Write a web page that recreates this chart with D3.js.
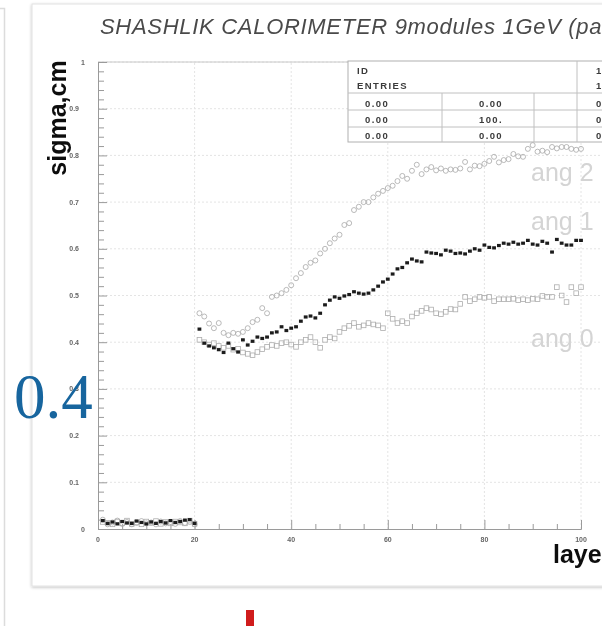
<!DOCTYPE html>
<html>
<head>
<meta charset="utf-8">
<script src="https://cdn.jsdelivr.net/npm/d3@7"></script>
<style>
  html, body { margin: 0; padding: 0; background: #fff; }
  svg { display: block; }
</style>
</head>
<body>
<svg id="chart" width="602" height="626"></svg>
<script>
// Layer numbers along the calorimeter
const layers = d3.range(1, 101);

// Transverse shower width per layer, three incidence angles
const ang0 = [0.015,0.013,0.010,0.016,0.012,0.018,0.011,0.014,0.010,0.016,0.013,0.017,0.011,0.015,0.012,0.016,0.014,0.012,0.018,0.011,
  0.405,0.400,0.395,0.398,0.392,0.388,0.392,0.384,0.386,0.378,0.375,0.372,0.379,0.385,0.390,0.394,0.392,0.398,0.400,0.395,
  0.390,0.400,0.405,0.411,0.400,0.388,0.405,0.411,0.408,0.422,0.430,0.435,0.441,0.433,0.436,0.441,0.438,0.436,0.430,0.462,
  0.450,0.441,0.445,0.441,0.455,0.462,0.467,0.473,0.470,0.462,0.460,0.465,0.471,0.470,0.482,0.497,0.488,0.492,0.497,0.495,
  0.497,0.488,0.492,0.492,0.492,0.493,0.490,0.492,0.490,0.493,0.492,0.499,0.497,0.497,0.518,0.500,0.486,0.518,0.505,0.518];

const ang1 = [0.018,0.012,0.015,0.011,0.016,0.013,0.012,0.017,0.014,0.011,0.015,0.012,0.016,0.013,0.018,0.014,0.016,0.019,0.020,0.012,
  0.428,0.398,0.392,0.388,0.384,0.378,0.398,0.386,0.379,0.405,0.394,0.402,0.411,0.408,0.411,0.420,0.422,0.433,0.425,0.430,
  0.433,0.445,0.454,0.456,0.452,0.462,0.480,0.490,0.497,0.494,0.499,0.502,0.508,0.505,0.503,0.505,0.512,0.520,0.529,0.535,
  0.546,0.557,0.560,0.570,0.578,0.574,0.572,0.593,0.591,0.590,0.587,0.597,0.595,0.590,0.591,0.589,0.595,0.600,0.597,0.608,
  0.603,0.602,0.607,0.612,0.610,0.614,0.610,0.612,0.618,0.610,0.608,0.616,0.612,0.593,0.620,0.612,0.608,0.608,0.618,0.618];

const ang2 = [0.020,0.010,0.014,0.018,0.011,0.015,0.010,0.013,0.017,0.012,0.014,0.010,0.016,0.012,0.015,0.011,0.017,0.013,0.015,0.010,
  0.462,0.455,0.440,0.430,0.441,0.420,0.415,0.420,0.418,0.422,0.430,0.443,0.448,0.473,0.462,0.497,0.500,0.505,0.512,0.522,
  0.537,0.548,0.561,0.570,0.575,0.590,0.600,0.612,0.622,0.630,0.651,0.655,0.683,0.690,0.700,0.700,0.710,0.718,0.724,0.730,
  0.735,0.745,0.756,0.750,0.767,0.780,0.760,0.770,0.775,0.768,0.772,0.767,0.770,0.769,0.772,0.786,0.770,0.778,0.777,0.782,
  0.788,0.797,0.785,0.790,0.792,0.803,0.798,0.797,0.814,0.822,0.808,0.810,0.807,0.818,0.815,0.818,0.818,0.814,0.812,0.814];

const seriesNames = ["ang 2", "ang 1", "ang 0"];
const seriesLabelY = [0.76, 0.655, 0.405];
const xTicks = [0, 20, 40, 60, 80, 100];
const yTicks = [0, 0.1, 0.2, 0.3, 0.4, 0.5, 0.6, 0.7, 0.8, 0.9, 1];
const yTickLabels = ["0", "0.1", "0.2", "0.3", "0.4", "0.5", "0.6", "0.7", "0.8", "0.9", "1"];

// Statistics box rows
const statHeader = ["ID", "ENTRIES"];
const statHeaderVals = ["1", "1"];
const statCol1 = ["0.00", "0.00", "0.00"];
const statCol2 = ["0.00", "100.", "0.00"];
const statCol3 = ["0", "0", "0"];

const svg = d3.select("#chart");
const defs = svg.append("defs");
defs.append("filter").attr("id", "soft")
  .attr("x", "-5%").attr("y", "-5%").attr("width", "110%").attr("height", "110%")
  .append("feGaussianBlur").attr("stdDeviation", 0.65);
const shadow = defs.append("filter").attr("id", "shadow")
  .attr("x", "-5%").attr("y", "-5%").attr("width", "110%").attr("height", "110%");
shadow.append("feGaussianBlur").attr("in", "SourceAlpha").attr("stdDeviation", 1.5);
shadow.append("feOffset").attr("dx", 0).attr("dy", 1).attr("result", "b");
shadow.append("feComponentTransfer").append("feFuncA").attr("type", "linear").attr("slope", 0.25);
const mrg = shadow.append("feMerge");
mrg.append("feMergeNode");
mrg.append("feMergeNode").attr("in", "SourceGraphic");

// neighbouring panel edge on the far left
svg.append("path").attr("d", "M0,8.5H4.5V626")
  .attr("fill", "none").attr("stroke", "#dcdcdc").attr("stroke-width", 1.5);

// panel card
svg.append("rect").attr("x", 32).attr("y", 4).attr("width", 600).attr("height", 582)
  .attr("fill", "#fff").attr("stroke", "#e2e2e2").attr("stroke-width", 1)
  .attr("filter", "url(#shadow)");

const g = svg.append("g").attr("filter", "url(#soft)");

const x = d3.scaleLinear().domain([0, 100]).range([98, 581]);
const y = d3.scaleLinear().domain([0, 1]).range([529, 62]);

// title
g.append("text").attr("x", 100).attr("y", 34)
  .attr("font-family", "Liberation Sans, Arial, sans-serif")
  .attr("font-style", "italic").attr("font-size", 22).attr("letter-spacing", 0.7)
  .attr("fill", "#4a4a4a")
  .text("SHASHLIK CALORIMETER 9modules 1GeV (parallel beam)");

// grid
g.append("g").selectAll("line").data(yTicks.slice(1)).join("line")
  .attr("x1", x(0)).attr("x2", 640).attr("y1", d => y(d)).attr("y2", d => y(d))
  .attr("stroke", "#e4e4e4").attr("stroke-width", 1).attr("stroke-dasharray", "2,2");
g.append("g").selectAll("line").data(xTicks.slice(1)).join("line")
  .attr("x1", d => x(d)).attr("x2", d => x(d)).attr("y1", y(0)).attr("y2", y(1))
  .attr("stroke", "#e4e4e4").attr("stroke-width", 1).attr("stroke-dasharray", "2,2");

// frame top
g.append("line").attr("x1", x(0)).attr("x2", 640).attr("y1", y(1)).attr("y2", y(1))
  .attr("stroke", "#c8c8c8");

// axes with inward ticks
const yAxis = d3.axisLeft(y).tickValues(d3.range(0, 1.0001, 0.02)).tickSize(-6).tickFormat("");
const yA = g.append("g").attr("transform", `translate(${x(0)},0)`).call(yAxis);
yA.selectAll("line").attr("stroke", "#9a9a9a");
yA.selectAll("path").attr("stroke", "#9a9a9a");
yA.selectAll(".tick").filter(d => Math.abs(d * 10 - Math.round(d * 10)) < 1e-6)
  .select("line").attr("x2", 9);

const xAxis = d3.axisBottom(x).tickValues(d3.range(0, 101, 5)).tickSize(-5).tickFormat("");
const xA = g.append("g").attr("transform", `translate(0,${y(0)})`).call(xAxis);
xA.selectAll("line").attr("stroke", "#9a9a9a");
xA.selectAll("path").attr("stroke", "#9a9a9a");
xA.selectAll(".tick").filter(d => d % 20 === 0).select("line").attr("y2", -9);

// tick labels
g.append("g").selectAll("text").data(yTicks).join("text")
  .attr("x", (d, i) => yTickLabels[i].length > 1 ? 79 : 85)
  .attr("y", d => y(d) + 2.5).attr("text-anchor", "end")
  .attr("font-family", "Liberation Sans, Arial, sans-serif").attr("font-weight", "bold")
  .attr("font-size", 7).attr("fill", "#666")
  .text((d, i) => yTickLabels[i]);
g.append("g").selectAll("text").data(xTicks).join("text")
  .attr("x", d => x(d)).attr("y", 542).attr("text-anchor", "middle")
  .attr("font-family", "Liberation Sans, Arial, sans-serif").attr("font-weight", "bold")
  .attr("font-size", 7).attr("fill", "#666")
  .text(d => d);

// axis titles
g.append("text").attr("transform", "translate(66,118) rotate(-90)")
  .attr("text-anchor", "middle")
  .attr("font-family", "Liberation Sans, Arial, sans-serif").attr("font-weight", "bold")
  .attr("font-size", 25).attr("fill", "#111")
  .text("sigma,cm");
g.append("text").attr("x", 553).attr("y", 563)
  .attr("font-family", "Liberation Sans, Arial, sans-serif").attr("font-weight", "bold")
  .attr("font-size", 25).attr("fill", "#111")
  .text("layer");

// series labels
g.append("g").selectAll("text").data(seriesNames).join("text")
  .attr("x", 531).attr("y", (d, i) => y(seriesLabelY[i]) + 7)
  .attr("font-family", "Liberation Sans, Arial, sans-serif")
  .attr("font-size", 25).attr("fill", "#d4d4d4")
  .text(d => d);

// statistics box
const sb = g.append("g");
sb.append("rect").attr("x", 348).attr("y", 61).attr("width", 300).attr("height", 81)
  .attr("fill", "#fff").attr("stroke", "#b0b0b0").attr("stroke-width", 1);
[93, 110, 127].forEach(yy => sb.append("line").attr("x1", 348).attr("x2", 648)
  .attr("y1", yy).attr("y2", yy).attr("stroke", "#c0c0c0"));
[[442, 93], [534, 93], [577, 61]].forEach(([xx, y0]) => sb.append("line")
  .attr("x1", xx).attr("x2", xx).attr("y1", y0).attr("y2", 142).attr("stroke", "#c0c0c0"));
const tStyle = s => s.attr("font-family", "Liberation Sans, Arial, sans-serif")
  .attr("font-weight", "bold").attr("font-size", 9.5).attr("letter-spacing", 1.4)
  .attr("fill", "#3a3a3a");
statHeader.forEach((t, i) => {
  sb.append("text").attr("x", 357).attr("y", 74 + i * 15).call(tStyle).text(t);
  sb.append("text").attr("x", 596).attr("y", 74 + i * 15).call(tStyle).text(statHeaderVals[i]);
});
statCol1.forEach((t, i) => {
  sb.append("text").attr("x", 365).attr("y", 107 + i * 16).call(tStyle).text(t);
  sb.append("text").attr("x", 491).attr("y", 107 + i * 16).attr("text-anchor", "middle").call(tStyle).text(statCol2[i]);
  sb.append("text").attr("x", 596).attr("y", 107 + i * 16).call(tStyle).text(statCol3[i]);
});

// markers
const pts = (vals) => layers.map((l, i) => ({ l, v: vals[i] }));
g.append("g").selectAll("rect").data(pts(ang0)).join("rect")
  .attr("x", d => x(d.l) - 2.3).attr("y", d => y(d.v) - 2.3)
  .attr("width", 4.6).attr("height", 4.6)
  .attr("fill", "none").attr("stroke", "#adadad").attr("stroke-width", 0.8);
g.append("g").selectAll("circle").data(pts(ang2)).join("circle")
  .attr("cx", d => x(d.l)).attr("cy", d => y(d.v)).attr("r", 2.5)
  .attr("fill", "none").attr("stroke", "#a8a8a8").attr("stroke-width", 0.8);
g.append("g").selectAll("rect").data(pts(ang1)).join("rect")
  .attr("x", d => x(d.l) - 1.9).attr("y", d => y(d.v) - 1.6)
  .attr("width", 3.8).attr("height", 3.2)
  .attr("fill", "#1a1a1a");

// page annotations outside the panel
svg.append("text").attr("x", 14).attr("y", 418)
  .attr("font-family", "Liberation Serif, Times New Roman, serif")
  .attr("font-size", 63).attr("fill", "#17659e")
  .text("0.4");
svg.append("rect").attr("x", 246).attr("y", 610).attr("width", 8).attr("height", 16)
  .attr("fill", "#d01c1c");
</script>
</body>
</html>
